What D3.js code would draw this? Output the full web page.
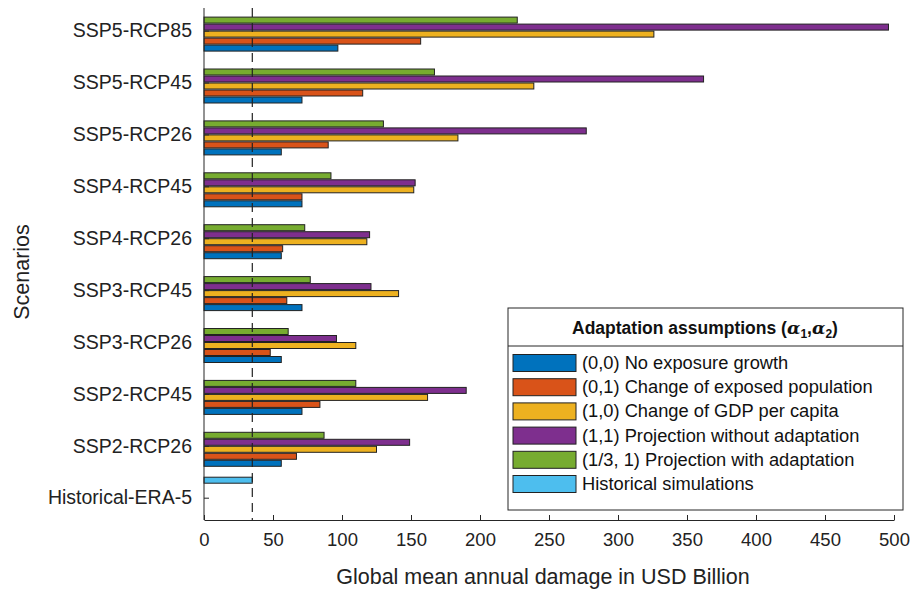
<!DOCTYPE html>
<html><head><meta charset="utf-8">
<script src="https://cdn.jsdelivr.net/npm/d3@7"></script>
<style>body{margin:0;background:#fff}text{font-family:"Liberation Sans",Arial,sans-serif}</style>
</head><body><svg id="c" width="922" height="593"></svg>
<script>
const categories=["SSP5-RCP85","SSP5-RCP45","SSP5-RCP26","SSP4-RCP45","SSP4-RCP26","SSP3-RCP45","SSP3-RCP26","SSP2-RCP45","SSP2-RCP26","Historical-ERA-5"];
const noExposure=[97,71,56,71,56,71,56,71,56,0];
const exposedPop=[157,115,90,71,57,60,48,84,67,0];
const gdp=[326,239,184,152,118,141,110,162,125,0];
const noAdapt=[496,362,277,153,120,121,96,190,149,0];
const withAdapt=[227,167,130,92,73,77,61,110,87,0];
const historical=[0,0,0,0,0,0,0,0,0,35];
const xTicks=[0,50,100,150,200,250,300,350,400,450,500];
const refLine=35;
const seriesNames=["Historical simulations","(1/3, 1) Projection with adaptation","(1,1) Projection without adaptation"," (1,0) Change of GDP per capita","(0,1) Change of exposed population","(0,0) No exposure growth"];
const seriesVals=[historical,withAdapt,noAdapt,gdp,exposedPop,noExposure];
const colors=["#4DBEEE","#77AC30","#7E2F8E","#EDB120","#D95319","#0072BD"];

const svg=d3.select("#c");
const L=204,R=894,T=8,B=520;
const x=d3.scaleLinear().domain([0,500]).range([L,R]);
const y=d3.scalePoint().domain(categories).range([30.6,497.7]);
const slot=7, bh=6;
seriesVals.forEach((vals,s)=>{
  svg.append("g").selectAll("rect").data(categories.map((c,i)=>({c,v:vals[i]})).filter(d=>d.v>0)).join("rect")
   .attr("x",x(0)).attr("y",d=>y(d.c)+(s-2.5)*slot-bh/2).attr("width",d=>x(d.v)-x(0)).attr("height",bh)
   .attr("fill",colors[s]).attr("stroke","#222").attr("stroke-width",1);
});
svg.append("line").attr("x1",x(refLine)).attr("x2",x(refLine)).attr("y1",T).attr("y2",B)
  .attr("stroke","#222").attr("stroke-width",1.2).attr("stroke-dasharray","9,6");
const xa=svg.append("g").attr("transform",`translate(0,${B})`).call(d3.axisBottom(x).tickValues(xTicks).tickSizeInner(-5).tickSizeOuter(0).tickPadding(13));
xa.selectAll("text").attr("font-size",18.5).attr("fill","#222");
xa.selectAll("line,path").attr("stroke","#262626");
const ya=svg.append("g").attr("transform",`translate(${L},0)`).call(d3.axisLeft(y).tickSizeInner(-5).tickSizeOuter(0).tickPadding(12));
ya.select("path").attr("d",`M0,${T}V${B}`);
ya.selectAll("text").attr("font-size",19.5).attr("fill","#222");
ya.selectAll("line,path").attr("stroke","#262626");
svg.append("text").attr("x",(L+R)/2-6).attr("y",584).attr("text-anchor","middle").attr("font-size",21.5).attr("fill","#222").text("Global mean annual damage in USD Billion");
svg.append("text").attr("transform",`translate(29,${(T+B)/2+8}) rotate(-90)`).attr("text-anchor","middle").attr("font-size",21.5).attr("fill","#222").text("Scenarios");

const lg=svg.append("g");
lg.append("rect").attr("x",508).attr("y",308).attr("width",395).attr("height",202).attr("fill","#fff").attr("stroke","#262626");
lg.append("line").attr("x1",508).attr("x2",903).attr("y1",346).attr("y2",346).attr("stroke","#262626");
const tt=lg.append("text").attr("x",705).attr("y",334).attr("text-anchor","middle").attr("font-size",17.5).attr("font-weight","bold").attr("fill","#111");
tt.append("tspan").text("Adaptation assumptions (");
tt.append("tspan").attr("font-style","italic").attr("font-family","DejaVu Serif").text("α");
tt.append("tspan").attr("font-size",12).attr("dy",4).text("1");
tt.append("tspan").attr("dy",-4).text(",");
tt.append("tspan").attr("font-style","italic").attr("font-family","DejaVu Serif").text("α");
tt.append("tspan").attr("font-size",12).attr("dy",4).text("2");
tt.append("tspan").attr("dy",-4).text(")");
const order=[5,4,3,2,1,0];
order.forEach((s,k)=>{
  const yy=363+k*24.2;
  lg.append("rect").attr("x",513).attr("y",yy-8.5).attr("width",63).attr("height",17).attr("fill",colors[s]).attr("stroke","#222");
  lg.append("text").attr("x",582).attr("y",yy+6).attr("font-size",18.3).attr("fill","#111").text(seriesNames[s]);
});
</script></body></html>
